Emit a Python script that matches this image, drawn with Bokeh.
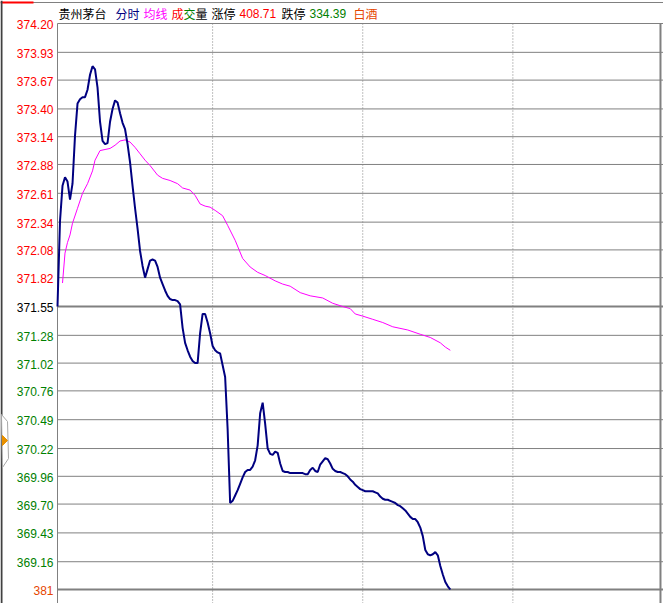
from bokeh.plotting import figure
from bokeh.models import Range1d
from bokeh.core.properties import value
from bokeh.embed import file_html
from bokeh.resources import INLINE

# ---------------- data ----------------
stock_name = "贵州茅台"
sector = "白酒"
limit_up = "408.71"
limit_down = "334.39"
pre_close = 371.55
price_top = 374.20
price_bottom = 368.90
volume_label = "381"

# minute price (9:30 onwards)
price = [
    371.55, 372.35, 372.68, 372.76, 372.72, 372.55, 372.70, 373.15, 373.45, 373.49,
    373.51, 373.51, 373.58, 373.72, 373.80, 373.77, 373.60, 373.28, 373.10, 373.07,
    373.08, 373.28, 373.40, 373.48, 373.46, 373.36, 373.27, 373.21, 373.07, 372.90,
    372.68, 372.47, 372.28, 372.07, 371.93, 371.82, 371.90, 371.98, 371.99, 371.98,
    371.92, 371.82, 371.76, 371.70, 371.65, 371.62, 371.61, 371.61, 371.60, 371.57,
    371.35, 371.21, 371.14, 371.08, 371.04, 371.02, 371.02, 371.30, 371.48, 371.48,
    371.40, 371.30, 371.18, 371.14, 371.12, 371.11, 371.00, 370.89, 370.40, 369.71,
    369.73, 369.78, 369.83, 369.89, 369.95, 370.00, 370.02, 370.02, 370.05, 370.11,
    370.25, 370.55, 370.65, 370.45, 370.22, 370.17, 370.16, 370.19, 370.18, 370.08,
    370.01, 370.00, 370.00, 369.99, 369.99, 369.99, 369.99, 369.99, 369.99, 369.98,
    369.98, 370.02, 370.04, 370.01, 370.00, 370.07, 370.10, 370.13, 370.12, 370.08,
    370.03, 370.01, 370.00, 370.00, 369.99, 369.98, 369.96, 369.93, 369.91, 369.88,
    369.86, 369.84, 369.83, 369.82, 369.82, 369.82, 369.82, 369.81, 369.80, 369.77,
    369.75, 369.74, 369.74, 369.73, 369.72, 369.71, 369.69, 369.68, 369.66, 369.64,
    369.61, 369.58, 369.56, 369.56, 369.53, 369.48, 369.40, 369.27, 369.23, 369.22,
    369.23, 369.25, 369.22, 369.12, 369.04, 368.97, 368.93, 368.90,
]
minutes = list(range(len(price)))

# average price line (read points)
avg_minutes = [2, 3, 4, 5, 6, 8, 10, 12, 14, 15, 17, 19, 21, 23, 25, 27, 29, 31, 33, 35,
               37, 40, 42, 45, 48, 50, 53, 55, 57, 59, 61, 63, 66, 68, 71, 74, 77, 80, 83, 87,
               90, 93, 97, 101, 106, 110, 114, 117, 119, 122, 126, 130, 134, 140, 145, 149,
               153, 155, 157]
avg_price = [371.77, 372.05, 372.15, 372.22, 372.33, 372.47, 372.61, 372.70, 372.82, 372.92,
             373.01, 373.02, 373.03, 373.06, 373.10, 373.11, 373.09, 373.04, 372.98, 372.92,
             372.87, 372.78, 372.75, 372.73, 372.70, 372.66, 372.64, 372.59, 372.51, 372.49,
             372.48, 372.45, 372.40, 372.31, 372.17, 372.00, 371.92, 371.87, 371.84, 371.79,
             371.76, 371.74, 371.68, 371.65, 371.63, 371.58, 371.55, 371.53, 371.48, 371.46,
             371.43, 371.40, 371.36, 371.33, 371.29, 371.26, 371.21, 371.17, 371.14]

tick_values = [374.20, 373.93, 373.67, 373.40, 373.14, 372.88, 372.61, 372.34, 372.08, 371.82,
               371.55, 371.28, 371.02, 370.76, 370.49, 370.22, 369.96, 369.70, 369.43, 369.16]
tick_labels = ["374.20", "373.93", "373.67", "373.40", "373.14", "372.88", "372.61", "372.34",
               "372.08", "371.82", "371.55", "371.28", "371.02", "370.76", "370.49", "370.22",
               "369.96", "369.70", "369.43", "369.16"]
time_marks = [62, 122, 182]
session_end = 241

# ---------------- layout ----------------
W, H = 663, 603
LEFT_PX, TOP_PX, BOT_PX = 57, 23, 589
PX_PER_MIN = 2.502
PX_PER_PRICE = (BOT_PX - TOP_PX) / (price_top - price_bottom)

x0 = -LEFT_PX / PX_PER_MIN
x1 = (W - LEFT_PX) / PX_PER_MIN
y1 = price_top + TOP_PX / PX_PER_PRICE
y0 = price_bottom - (H - BOT_PX) / PX_PER_PRICE


def px_x(px):
    return (px - LEFT_PX) / PX_PER_MIN


def px_y(py):
    return price_top - (py - TOP_PX) / PX_PER_PRICE


p = figure(width=W, height=H, output_backend="svg", toolbar_location=None,
           x_range=Range1d(x0, x1), y_range=Range1d(y0, y1),
           min_border=0, min_border_left=0, min_border_right=0,
           min_border_top=0, min_border_bottom=0)
p.axis.visible = False
p.grid.visible = False
p.outline_line_color = None
p.background_fill_color = "white"
p.border_fill_color = "white"

GRID = "#808080"
FONT = value("Liberation Sans")
CJK = value("Noto Sans CJK SC")

# horizontal grid
thin = [v for v in tick_values if v != pre_close]
p.segment(x0=[0] * len(thin), x1=[x1] * len(thin), y0=thin, y1=thin,
          line_color=GRID, line_width=1)
p.segment(x0=[0, 0], x1=[x1, x1], y0=[pre_close, price_bottom], y1=[pre_close, price_bottom],
          line_color=GRID, line_width=2)
# vertical time dividers
p.segment(x0=time_marks, x1=time_marks, y0=[price_top] * 3, y1=[y0] * 3,
          line_color=GRID, line_width=1, line_dash="1 2")
# frame verticals
p.segment(x0=[0], x1=[0], y0=[price_top], y1=[y0], line_color=GRID, line_width=1)
p.segment(x0=[session_end], x1=[session_end], y0=[price_top], y1=[y0],
          line_color=GRID, line_width=2)

# window chrome
p.segment(x0=[px_x(0)], x1=[x1], y0=[px_y(2)], y1=[px_y(2)], line_color=GRID, line_width=1)
p.segment(x0=[px_x(0)], x1=[px_x(33)], y0=[px_y(2)], y1=[px_y(2)], line_color="#ff0000", line_width=2)
p.segment(x0=[px_x(1)], x1=[px_x(1)], y0=[y1], y1=[y0], line_color="#404040", line_width=2)
p.patch(x=[px_x(1), px_x(7), px_x(8), px_x(2)], y=[px_y(414), px_y(421), px_y(458), px_y(467)],
        fill_color="white", line_color="#a8a8a8", line_width=1)
p.patch(x=[px_x(2), px_x(7), px_x(2)], y=[px_y(435), px_y(440), px_y(445)],
        fill_color="#e89000", line_color="#e89000", line_width=1)

# price and average lines
p.line(avg_minutes, avg_price, line_color="#ff00ff", line_width=1)
p.line(minutes, price, line_color="#000080", line_width=2)

# tick labels
colors = []
for v in tick_values:
    if v > pre_close:
        colors.append("#ff0000")
    elif v < pre_close:
        colors.append("#008000")
    else:
        colors.append("#000000")
label_x = px_x(53)
off = 1 / PX_PER_PRICE
p.text(x=[label_x] * len(tick_values), y=[v - off for v in tick_values], text=tick_labels,
       text_color=colors, text_font=FONT, text_font_size="12px",
       text_align="right", text_baseline="middle")
p.text(x=[label_x], y=[price_bottom - off], text=[volume_label], text_color="#e64600",
       text_font=FONT, text_font_size="12px", text_align="right", text_baseline="middle")

# header
header = [
    (stock_name, "#000000", 58, CJK),
    ("分时", "#000080", 115, CJK),
    ("均线", "#ff00ff", 143, CJK),
    ("成", "#ff0000", 171, CJK),
    ("交", "#008000", 183, CJK),
    ("量", "#000000", 195, CJK),
    ("涨停", "#000000", 211, CJK),
    (limit_up, "#ff0000", 239, FONT),
    ("跌停", "#000000", 281, CJK),
    (limit_down, "#008000", 309, FONT),
    (sector, "#e64600", 353, CJK),
]
for txt, col, xpx, fnt in header:
    p.text(x=[px_x(xpx)], y=[px_y(13)], text=[txt], text_color=col, text_font=fnt,
           text_font_size="12px", text_align="left", text_baseline="middle")

open("out.html", "w").write(file_html(p, INLINE))
